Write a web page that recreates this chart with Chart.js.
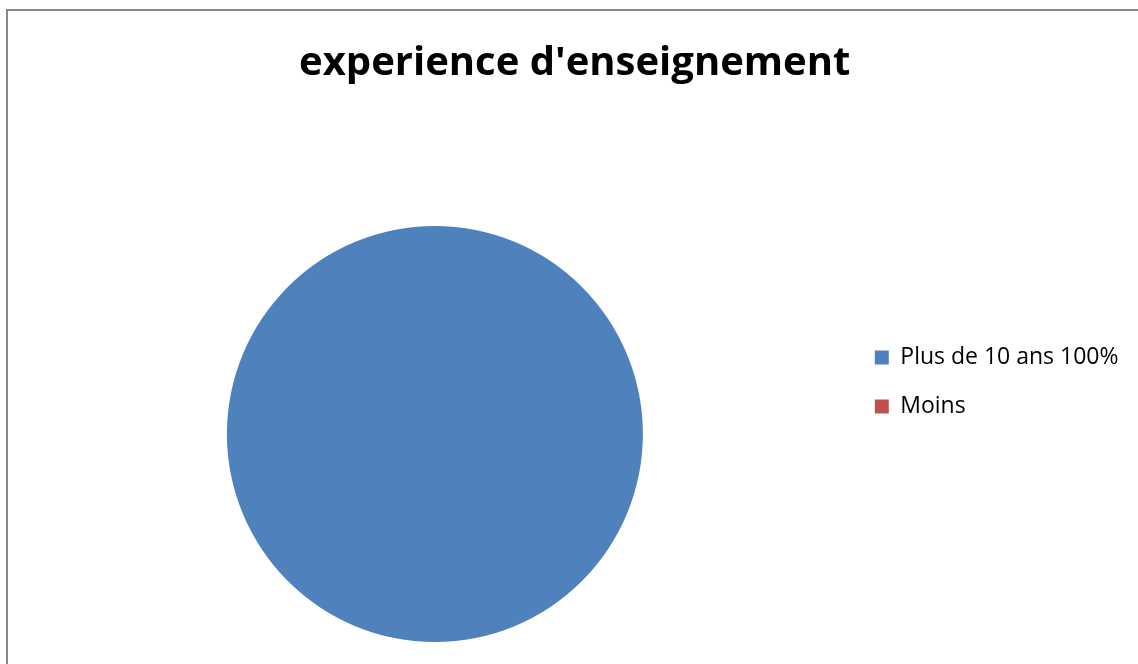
<!DOCTYPE html>
<html>
<head>
<meta charset="utf-8">
<script src="https://cdn.jsdelivr.net/npm/chart.js@4.4.1/dist/chart.umd.min.js"></script>
<style>
  html, body { margin: 0; padding: 0; background: #ffffff; }
  #wrap { position: relative; width: 1138px; height: 664px; }
</style>
</head>
<body>
<div id="wrap"><canvas id="chart" width="1138" height="664"></canvas></div>
<script>
// Teaching experience of the surveyed teachers
const chartTitle = "experience d'enseignement";
const categories = ["Plus de 10 ans 100%", "Moins"];
const shares = [100, 0];
const sliceColors = ["#4F81BD", "#C0504D"];

// Thin grey frame along the left and top edges of the chart
const framePlugin = {
  id: 'frame',
  beforeDraw(chart) {
    const ctx = chart.ctx;
    ctx.save();
    ctx.strokeStyle = '#878787';
    ctx.lineWidth = 2;
    ctx.beginPath();
    ctx.moveTo(7, chart.height);
    ctx.lineTo(7, 10);
    ctx.lineTo(chart.width, 10);
    ctx.stroke();
    ctx.restore();
  }
};

// Move the legend block vertically by a fixed offset after layout
const legendShiftPlugin = {
  id: 'legendShift',
  afterLayout(chart, args, opts) {
    const lg = chart.legend;
    if (lg) {
      lg.top += opts.dy;
      lg.bottom += opts.dy;
    }
  }
};

new Chart(document.getElementById('chart'), {
  type: 'pie',
  data: {
    labels: categories,
    datasets: [{
      data: shares,
      backgroundColor: sliceColors,
      borderWidth: 0
    }]
  },
  plugins: [framePlugin, legendShiftPlugin],
  options: {
    responsive: false,
    animation: false,
    layout: { padding: { left: 21, right: 9.5, top: 0, bottom: 22 } },
    plugins: {
      legendShift: { dy: 61 },
      title: {
        display: true,
        text: chartTitle,
        color: '#000000',
        font: { family: "'Open Sans', sans-serif", size: 40, weight: 'bold', lineHeight: 1.2 },
        padding: { top: 40, bottom: 138 }
      },
      legend: {
        position: 'right',
        labels: {
          color: '#000000',
          boxWidth: 14,
          boxHeight: 14,
          padding: 26,
          font: { family: "'Open Sans', sans-serif", size: 23 }
        }
      },
      tooltip: { enabled: false }
    }
  }
});
</script>
</body>
</html>
